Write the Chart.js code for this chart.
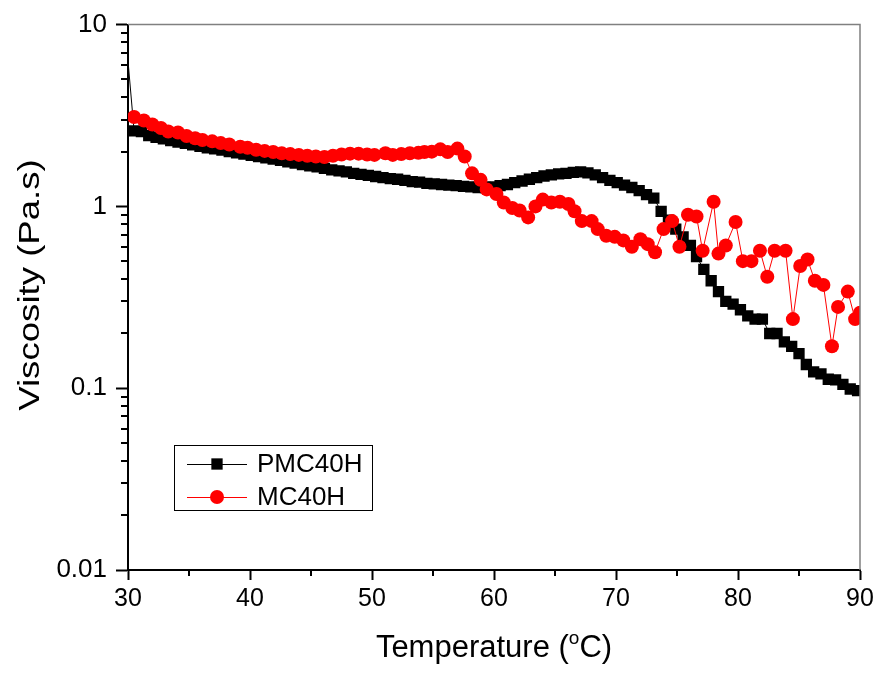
<!DOCTYPE html>
<html>
<head>
<meta charset="utf-8">
<title>Viscosity vs Temperature</title>
<script src="https://cdn.jsdelivr.net/npm/chart.js@4.4.1/dist/chart.umd.min.js"></script>
<style>
    html, body { margin: 0; padding: 0; background: #fff; }
    #wrap { width: 879px; height: 673px; }
</style>
</head>
<body>
<div id="wrap"><canvas id="viscChart" width="879" height="673"></canvas></div>
<script>

//
// Data
//

const pmcTemps = [
    29.8, 30.5, 31.1, 31.7, 32.3, 32.9, 33.5, 34.1, 34.7, 35.3,
    35.9, 36.5, 37.1, 37.7, 38.3, 38.9, 39.5, 40.1, 40.7, 41.3,
    41.9, 42.5, 43.1, 43.7, 44.3, 44.9, 45.5, 46.1, 46.7, 47.3,
    47.9, 48.5, 49.1, 49.7, 50.3, 50.9, 51.5, 52.1, 52.7, 53.3,
    53.9, 54.5, 55.1, 55.7, 56.3, 56.9, 57.5, 58.1, 58.7, 59.3,
    59.9, 60.5, 61.1, 61.7, 62.3, 62.9, 63.5, 64.1, 64.7, 65.3,
    65.9, 66.5, 67.1, 67.7, 68.3, 68.9, 69.5, 70.1, 70.7, 71.3,
    71.9, 72.5, 73.1, 73.7, 74.3, 74.9, 75.5, 76.1, 76.6, 77.2,
    77.8, 78.4, 79.0, 79.6, 80.2, 80.8, 81.4, 82.0, 82.6, 83.2,
    83.8, 84.4, 85.0, 85.6, 86.2, 86.8, 87.4, 88.0, 88.6, 89.2,
    89.8
];

const pmcVisc = [
    9.0, 2.60, 2.58, 2.45, 2.40, 2.35, 2.30, 2.26, 2.22, 2.18,
    2.14, 2.10, 2.07, 2.04, 2.00, 1.97, 1.94, 1.91, 1.88, 1.85,
    1.82, 1.79, 1.76, 1.73, 1.70, 1.67, 1.65, 1.62, 1.59, 1.57,
    1.55, 1.52, 1.50, 1.48, 1.46, 1.44, 1.42, 1.41, 1.39, 1.37,
    1.36, 1.34, 1.33, 1.32, 1.31, 1.30, 1.29, 1.28, 1.27, 1.27,
    1.28, 1.30, 1.32, 1.35, 1.38, 1.41, 1.44, 1.47, 1.49, 1.51,
    1.52, 1.54, 1.55, 1.53, 1.49, 1.44, 1.39, 1.35, 1.31, 1.27,
    1.22, 1.16, 1.11, 0.94, 0.84, 0.75, 0.68, 0.61, 0.53, 0.45,
    0.39, 0.34, 0.30, 0.29, 0.27, 0.25, 0.24, 0.24, 0.20, 0.20,
    0.18, 0.17, 0.155, 0.135, 0.123, 0.12, 0.112, 0.111, 0.105, 0.099,
    0.097
];

const mcTemps = [
    30.5, 31.3, 32.0, 32.7, 33.3, 34.1, 34.8, 35.5, 36.1, 36.9,
    37.6, 38.3, 39.2, 39.8, 40.5, 41.2, 41.9, 42.6, 43.3, 44.0,
    44.7, 45.4, 46.1, 46.8, 47.5, 48.2, 48.9, 49.6, 50.2, 51.1,
    51.7, 52.4, 53.1, 53.8, 54.3, 54.9, 55.6, 56.2, 57.0, 57.6,
    58.2, 58.9, 59.4, 60.2, 60.8, 61.5, 62.1, 62.8, 63.4, 64.0,
    64.7, 65.4, 66.1, 66.6, 67.2, 68.0, 68.5, 69.2, 69.9, 70.6,
    71.3, 72.0, 72.6, 73.2, 73.9, 74.6, 75.2, 75.9, 76.6, 77.1,
    78.0, 78.4, 79.0, 79.8, 80.4, 81.1, 81.8, 82.4, 83.0, 83.9,
    84.5, 85.1, 85.7, 86.3, 87.0, 87.7, 88.2, 89.0, 89.6, 90.0
];

const mcVisc = [
    3.10, 2.97, 2.82, 2.70, 2.58, 2.55, 2.44, 2.37, 2.32, 2.28,
    2.23, 2.19, 2.13, 2.10, 2.05, 2.02, 1.99, 1.96, 1.94, 1.92,
    1.90, 1.88, 1.87, 1.90, 1.93, 1.95, 1.95, 1.93, 1.92, 1.96,
    1.92, 1.94, 1.96, 1.97, 1.99, 2.00, 2.06, 1.99, 2.08, 1.88,
    1.52, 1.40, 1.24, 1.17, 1.05, 0.98, 0.95, 0.87, 1.00, 1.09,
    1.05, 1.06, 1.03, 0.94, 0.83, 0.83, 0.75, 0.69, 0.68, 0.65,
    0.60, 0.66, 0.62, 0.56, 0.75, 0.83, 0.60, 0.90, 0.88, 0.57,
    1.06, 0.55, 0.61, 0.82, 0.50, 0.50, 0.57, 0.41, 0.57, 0.57,
    0.24, 0.47, 0.51, 0.39, 0.37, 0.17, 0.28, 0.34, 0.24, 0.26
];

const seriesNames = ["PMC40H", "MC40H"];

const xMinorTicks = [35, 45, 55, 65, 75, 85];
const yMajorTicks = [0.01, 0.1, 1, 10];
const yTickLabels = ["0.01", "0.1", "1", "10"];
const yMinorSteps = [2, 3, 4, 5, 6, 7, 8, 9];

const xTitle = ["Temperature (", "o", "C)"];
const yTitle = "Viscosity (Pa.s)";

const FONT = "'Liberation Sans', Arial, sans-serif";

const SQUARE_R = 8;
const CIRCLE_R = 7;

//
// Plugins
//

// top/right frame + minor ticks
const frameAndMinorTicks = {
    id: "frameAndMinorTicks",

    afterDraw(chart) {

        const { ctx, chartArea: { left, right, top, bottom }, scales: { x, y } } = chart;

        ctx.save();

        ctx.strokeStyle = "#808080";
        ctx.lineWidth = 1.5;
        ctx.beginPath();
        ctx.moveTo(left, top);
        ctx.lineTo(right, top);
        ctx.lineTo(right, bottom);
        ctx.stroke();

        ctx.strokeStyle = "#000";
        ctx.lineWidth = 2;
        ctx.beginPath();

        xMinorTicks.forEach(v => {
            const px = Math.round(x.getPixelForValue(v));
            ctx.moveTo(px, bottom);
            ctx.lineTo(px, bottom + 6);
        });

        yMajorTicks.slice(0, -1).forEach(decade => {
            yMinorSteps.forEach(m => {
                const py = Math.round(y.getPixelForValue(decade * m));
                ctx.moveTo(left - 7, py);
                ctx.lineTo(left, py);
            });
        });

        ctx.stroke();
        ctx.restore();
    }
};

// axis titles (superscript o in the x title)
const axisTitles = {
    id: "axisTitles",

    afterDraw(chart) {

        const { ctx, chartArea: { left, right } } = chart;

        ctx.save();
        ctx.fillStyle = "#000";
        ctx.textBaseline = "alphabetic";
        ctx.textAlign = "left";

        // x title
        const bigFont = "31px " + FONT;
        const supFont = "19px " + FONT;

        ctx.font = bigFont;
        const w0 = ctx.measureText(xTitle[0]).width;
        const w2 = ctx.measureText(xTitle[2]).width;
        ctx.font = supFont;
        const w1 = ctx.measureText(xTitle[1]).width;

        const total = w0 + w1 + w2;
        let xPos = (left + right) / 2 - total / 2;
        const base = 657;

        ctx.font = bigFont;
        ctx.fillText(xTitle[0], xPos, base);
        xPos += w0;
        ctx.font = supFont;
        ctx.fillText(xTitle[1], xPos, base - 13);
        xPos += w1;
        ctx.font = bigFont;
        ctx.fillText(xTitle[2], xPos, base);

        // y title, rotated and stretched along its length
        ctx.font = "30px " + FONT;
        ctx.textAlign = "center";
        ctx.textBaseline = "middle";
        ctx.translate(31, 285);
        ctx.rotate(-Math.PI / 2);
        ctx.scale(1.22, 1);
        ctx.fillText(yTitle, 0, 0);

        ctx.restore();
    }
};

// boxed legend with line + marker samples
const boxLegend = {
    id: "boxLegend",

    afterDraw(chart) {

        const { ctx } = chart;
        const datasets = chart.data.datasets;

        const bx = 174, by = 445, bw = 198, bh = 65;

        ctx.save();

        ctx.fillStyle = "#fff";
        ctx.fillRect(bx, by, bw, bh);
        ctx.strokeStyle = "#000";
        ctx.lineWidth = 1;
        ctx.strokeRect(bx + 0.5, by + 0.5, bw, bh);

        datasets.forEach((ds, i) => {

            const cy = 464 + i * 33;

            ctx.strokeStyle = ds.borderColor;
            ctx.lineWidth = 1;
            ctx.beginPath();
            ctx.moveTo(187, cy + 0.5);
            ctx.lineTo(247, cy + 0.5);
            ctx.stroke();

            ctx.fillStyle = ds.pointBackgroundColor;
            ctx.beginPath();
            if (ds.pointStyle === "rect") {
                const s = SQUARE_R * Math.SQRT1_2;
                ctx.rect(217 - s, cy - s, 2 * s, 2 * s);
            } else {
                ctx.arc(217, cy, CIRCLE_R, 0, Math.PI * 2);
            }
            ctx.fill();

            ctx.fillStyle = "#000";
            ctx.font = "26px " + FONT;
            ctx.textAlign = "left";
            ctx.textBaseline = "middle";
            ctx.fillText(ds.label, 257, cy + 1);
        });

        ctx.restore();
    }
};

// no marker for points left of the x range (only the line enters the plot)
function markerRadius(r) {
    return c => (c.raw && c.raw.x < 30 ? 0 : r);
}

//
// Chart
//

const ctx = document.getElementById("viscChart");

new Chart(ctx, {
    type: "line",

    data: {
        datasets: [
            {
                label: seriesNames[0],
                data: pmcTemps.map((t, i) => ({ x: t, y: pmcVisc[i] })),
                borderColor: "#000",
                borderWidth: 1,
                pointStyle: "rect",
                pointRadius: markerRadius(SQUARE_R),
                pointBackgroundColor: "#000",
                pointBorderColor: "#000",
                pointBorderWidth: 0,
                tension: 0,
                order: 2
            },
            {
                label: seriesNames[1],
                data: mcTemps.map((t, i) => ({ x: t, y: mcVisc[i] })),
                borderColor: "#ff0000",
                borderWidth: 1,
                pointStyle: "circle",
                pointRadius: markerRadius(CIRCLE_R),
                pointBackgroundColor: "#ff0000",
                pointBorderColor: "#ff0000",
                pointBorderWidth: 0,
                tension: 0,
                order: 1
            }
        ]
    },

    options: {
        responsive: false,
        animation: false,

        layout: {
            padding: { left: 0, top: 18, right: 19, bottom: 0 }
        },

        plugins: {
            legend: { display: false },
            tooltip: { enabled: false }
        },

        scales: {
            x: {
                type: "linear",
                min: 30,
                max: 90,
                afterFit(scale) {
                    scale.height = 103;
                },
                ticks: {
                    stepSize: 10,
                    color: "#000",
                    padding: 4,
                    maxRotation: 0,
                    font: { family: FONT, size: 25 }
                },
                grid: {
                    drawOnChartArea: false,
                    tickLength: 10,
                    tickWidth: 2,
                    tickColor: "#000"
                },
                border: { color: "#000", width: 2 }
            },

            y: {
                type: "logarithmic",
                min: 0.01,
                max: 10,
                afterFit(scale) {
                    scale.width = 128;
                },
                afterBuildTicks(scale) {
                    scale.ticks = yMajorTicks.map(v => ({ value: v, major: true }));
                },
                ticks: {
                    color: "#000",
                    padding: 9,
                    font: { family: FONT, size: 26 },
                    callback: (value, index) => yTickLabels[index]
                },
                grid: {
                    drawOnChartArea: false,
                    tickLength: 12,
                    tickWidth: 2,
                    tickColor: "#000"
                },
                border: { color: "#000", width: 2 }
            }
        }
    },

    plugins: [frameAndMinorTicks, axisTitles, boxLegend]
});
</script>
</body>
</html>
